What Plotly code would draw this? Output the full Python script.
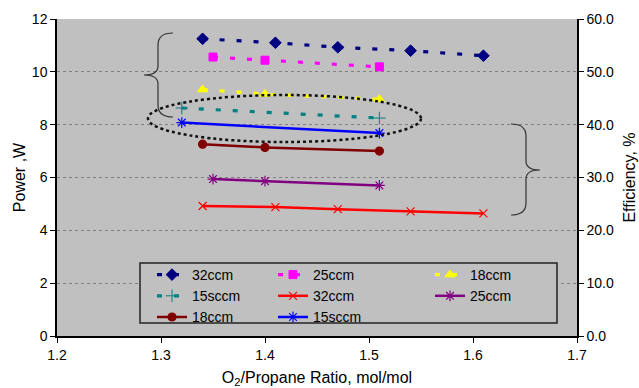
import plotly.graph_objects as go

# O2/propane ratio values for each series
x_five = [1.34, 1.41, 1.47, 1.54, 1.61]
x_three_a = [1.35, 1.40, 1.51]
x_three_b = [1.34, 1.40, 1.51]
x_two = [1.32, 1.51]

# Power, W (left axis)
power_32 = [11.25, 11.10, 10.93, 10.80, 10.61]
power_25 = [10.56, 10.44, 10.19]
power_18 = [9.33, 9.16, 8.96]
power_15 = [8.63, 8.25]

# Efficiency, % (right axis)
eff_32 = [24.6, 24.4, 24.0, 23.6, 23.2]
eff_25 = [29.7, 29.3, 28.5]
eff_18 = [36.3, 35.7, 35.0]
eff_15 = [40.4, 38.4]

FONT = "Arial, Liberation Sans, sans-serif"
DASH = "5px,12px"

fig = go.Figure()

def power_trace(x, y, name, color, symbol, size, legend):
    fig.add_trace(go.Scatter(
        x=x, y=y, name=name, mode="lines+markers", legend=legend,
        line=dict(color=color, width=3.2, dash=DASH),
        marker=dict(color=color, symbol=symbol, size=size,
                    line=dict(color=color, width=1)),
    ))

def eff_trace(x, y, name, color, symbol, size, legend):
    fig.add_trace(go.Scatter(
        x=x, y=y, name=name, mode="lines+markers", yaxis="y2", legend=legend,
        line=dict(color=color, width=2.5),
        marker=dict(color=color, symbol=symbol, size=size,
                    line=dict(color=color, width=1.2)),
    ))

# column 1 of the legend
power_trace(x_five, power_32, "32ccm", "#000080", "diamond", 9, "legend")
power_trace(x_two, power_15, "15sccm", "#008080", "cross-thin", 9, "legend")
eff_trace(x_three_b, eff_18, "18ccm", "#800000", "circle", 8, "legend")
# column 2
power_trace(x_three_a, power_25, "25ccm", "#FF00FF", "square", 8, "legend2")
eff_trace(x_five, eff_32, "32ccm", "#FF0000", "x-thin", 8, "legend2")
eff_trace(x_two, eff_15, "15sccm", "#0000FF", "asterisk", 9, "legend2")
# column 3
power_trace(x_three_b, power_18, "18ccm", "#FFFF00", "triangle-up", 9, "legend3")
eff_trace(x_three_a, eff_25, "25ccm", "#800080", "asterisk", 9, "legend3")

L, R, T, B = 57, 62, 19, 52
W, H = 639, 388
PW, PH = W - L - R, H - T - B


def px(x, y):
    """pixel position -> paper coordinates string"""
    return f"{(x - L) / PW:.4f},{(H - B - y) / PH:.4f}"

def fx(x):
    return (x - L) / PW

def fy(y):
    return (H - B - y) / PH

left_brace = (f"M{px(173,33)} Q{px(158,33)} {px(158,45)} L{px(158,66)} "
              f"Q{px(158,75)} {px(144,75)} Q{px(158,75)} {px(158,84)} "
              f"L{px(158,105)} Q{px(158,117)} {px(173,117)}")
right_brace = (f"M{px(511,124)} Q{px(526,124)} {px(526,136)} L{px(526,161)} "
               f"Q{px(526,170)} {px(540,170)} Q{px(526,170)} {px(526,179)} "
               f"L{px(526,203)} Q{px(526,215)} {px(511,215)}")

shapes = [
    dict(type="path", xref="paper", yref="paper", path=left_brace,
         line=dict(color="#333333", width=1.2), layer="above"),
    dict(type="path", xref="paper", yref="paper", path=right_brace,
         line=dict(color="#333333", width=1.2), layer="above"),
    dict(type="circle", xref="paper", yref="paper",
         x0=fx(148), x1=fx(421), y0=fy(142), y1=fy(95),
         line=dict(color="#111111", width=2.5, dash="dot"), layer="above"),
    dict(type="rect", xref="paper", yref="paper",
         x0=fx(140), x1=fx(557), y0=fy(323), y1=fy(263),
         fillcolor="#C0C0C0", line=dict(color="#222222", width=1.5), layer="above"),
]

legend_common = dict(font=dict(family=FONT, size=14, color="black"),
                     bgcolor="rgba(0,0,0,0)", borderwidth=0,
                     yanchor="top", xanchor="left", tracegroupgap=0,
                     itemwidth=30)

fig.update_layout(
    width=W, height=H,
    margin=dict(l=L, r=R, t=T, b=B, autoexpand=False),
    paper_bgcolor="white",
    plot_bgcolor="#C0C0C0",
    font=dict(family=FONT, size=14, color="black"),
    shapes=shapes,
    legend=dict(x=fx(152), y=fy(259), **legend_common),
    legend2=dict(x=fx(273), y=fy(259), **legend_common),
    legend3=dict(x=fx(430), y=fy(259), **legend_common),
    xaxis=dict(
        range=[1.2, 1.7], dtick=0.1, tick0=1.2, tickformat=".1f",
        showline=True, linecolor="black", linewidth=1.5,
        ticks="outside", ticklen=5, tickcolor="black",
        showgrid=False, zeroline=False, automargin=False,
        tickfont=dict(size=14),
        title=dict(text="O<sub>2</sub>/Propane Ratio, mol/mol",
                   font=dict(size=16), standoff=11),
    ),
    yaxis=dict(
        range=[0, 12], dtick=2, tickformat="d",
        showline=True, linecolor="black", linewidth=1.5,
        ticks="outside", ticklen=5, tickcolor="black",
        showgrid=True, gridcolor="#7F7F7F", griddash="dot", gridwidth=1,
        zeroline=False, automargin=False, tickfont=dict(size=14),
        title=dict(text="Power ,W", font=dict(size=16), standoff=2),
    ),
    yaxis2=dict(
        range=[0, 60], dtick=10, tickformat=".1f",
        overlaying="y", side="right",
        showline=True, linecolor="black", linewidth=1.5,
        ticks="outside", ticklen=5, tickcolor="black",
        showgrid=False, zeroline=False, automargin=False, tickfont=dict(size=14),
        title=dict(text="Efficiency, %", font=dict(size=16), standoff=11),
    ),
)

fig.write_html("out.html")
